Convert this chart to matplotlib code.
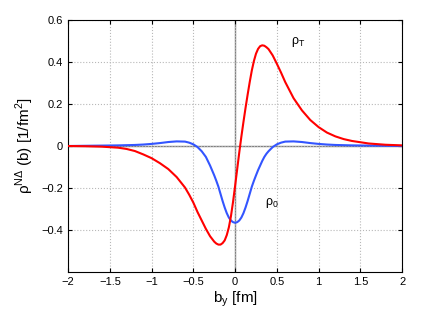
import matplotlib
matplotlib.use('Agg')
import matplotlib.pyplot as plt

#impact parameter b_y in fm
b_y = [-2.0, -1.8, -1.6, -1.4, -1.3, -1.2, -1.1, -1.0, -0.9, -0.8, -0.7, -0.6,
       -0.55, -0.5, -0.45, -0.4, -0.35, -0.3, -0.25, -0.225, -0.2, -0.175, -0.15,
       -0.125, -0.1, -0.075, -0.05, -0.025, 0.0, 0.025, 0.05, 0.075, 0.1, 0.125,
       0.15, 0.175, 0.2, 0.225, 0.25, 0.275, 0.3, 0.325, 0.35, 0.375, 0.4, 0.45,
       0.5, 0.55, 0.6, 0.7, 0.8, 0.9, 1.0, 1.1, 1.2, 1.3, 1.4, 1.6, 1.8, 2.0]

#transverse density rho_T (red)
rho_T = [0.0, -0.001, -0.003, -0.008, -0.014, -0.024, -0.040, -0.058, -0.082,
         -0.110, -0.148, -0.198, -0.232, -0.270, -0.315, -0.355, -0.395, -0.430,
         -0.456, -0.465, -0.470, -0.470, -0.463, -0.450, -0.425, -0.388, -0.335,
         -0.267, -0.190, -0.110, -0.030, 0.045, 0.115, 0.182, 0.245, 0.305, 0.360,
         0.405, 0.440, 0.463, 0.476, 0.480, 0.478, 0.471, 0.462, 0.432, 0.392,
         0.350, 0.305, 0.228, 0.170, 0.124, 0.090, 0.064, 0.046, 0.033, 0.024,
         0.012, 0.006, 0.003]

#unpolarized density rho_0 (blue)
rho_0 = [0.0, 0.001, 0.002, 0.003, 0.004, 0.005, 0.007, 0.010, 0.014, 0.019,
         0.022, 0.021, 0.016, 0.008, -0.005, -0.025, -0.052, -0.093, -0.140,
         -0.166, -0.194, -0.228, -0.262, -0.293, -0.320, -0.341, -0.355, -0.363,
         -0.366, -0.363, -0.355, -0.341, -0.320, -0.293, -0.262, -0.228, -0.194,
         -0.166, -0.140, -0.115, -0.093, -0.071, -0.052, -0.037, -0.025, -0.005,
         0.008, 0.016, 0.021, 0.022, 0.019, 0.014, 0.010, 0.007, 0.005, 0.004,
         0.003, 0.002, 0.001, 0.0]

x_ticks = [-2, -1.5, -1, -0.5, 0, 0.5, 1, 1.5, 2]
x_tick_labels = ['\u22122', '\u22121.5', '\u22121', '\u22120.5', '0', '0.5', '1', '1.5', '2']
y_ticks = [-0.4, -0.2, 0, 0.2, 0.4, 0.6]
y_tick_labels = ['\u22120.4', '\u22120.2', '0', '0.2', '0.4', '0.6']

plt.rcParams['font.family'] = ['Liberation Sans', 'DejaVu Sans']
plt.rcParams['mathtext.fontset'] = 'custom'
plt.rcParams['mathtext.rm'] = 'Liberation Sans'

fig = plt.figure(figsize=(4.31, 3.10), dpi=100)
ax = fig.add_axes([0.158, 0.123, 0.775, 0.812])

#zero axes lines
ax.axhline(0, color='#808080', lw=1.0, zorder=1)
ax.axvline(0, color='#808080', lw=1.0, zorder=1)

ax.plot(b_y, rho_T, color='#ff0000', lw=1.5, zorder=3)
ax.plot(b_y, rho_0, color='#3355ff', lw=1.5, zorder=2)

#curve labels
ax.text(0.67, 0.495, '\u03c1$_\\mathregular{T}$', fontsize=9, ha='left', va='center')
ax.text(0.36, -0.27, '\u03c1$_\\mathregular{0}$', fontsize=9, ha='left', va='center')

ax.set_xlim(-2, 2)
ax.set_ylim(-0.6, 0.6)
ax.set_xticks(x_ticks)
ax.set_xticklabels(x_tick_labels)
ax.set_yticks(y_ticks)
ax.set_yticklabels(y_tick_labels)
ax.tick_params(direction='in', top=True, right=True, labelsize=8, length=3)
ax.grid(True, linestyle=':', color='#b8b8b8', lw=0.8)

ax.set_xlabel('b$_\\mathregular{y}$ [fm]', fontsize=11, labelpad=2)
ax.set_ylabel('\u03c1$^\\mathregular{N\u0394}$ (b) [1/fm$^\\mathregular{2}$]', fontsize=11, labelpad=4)

fig.savefig('out.png', dpi=100)
